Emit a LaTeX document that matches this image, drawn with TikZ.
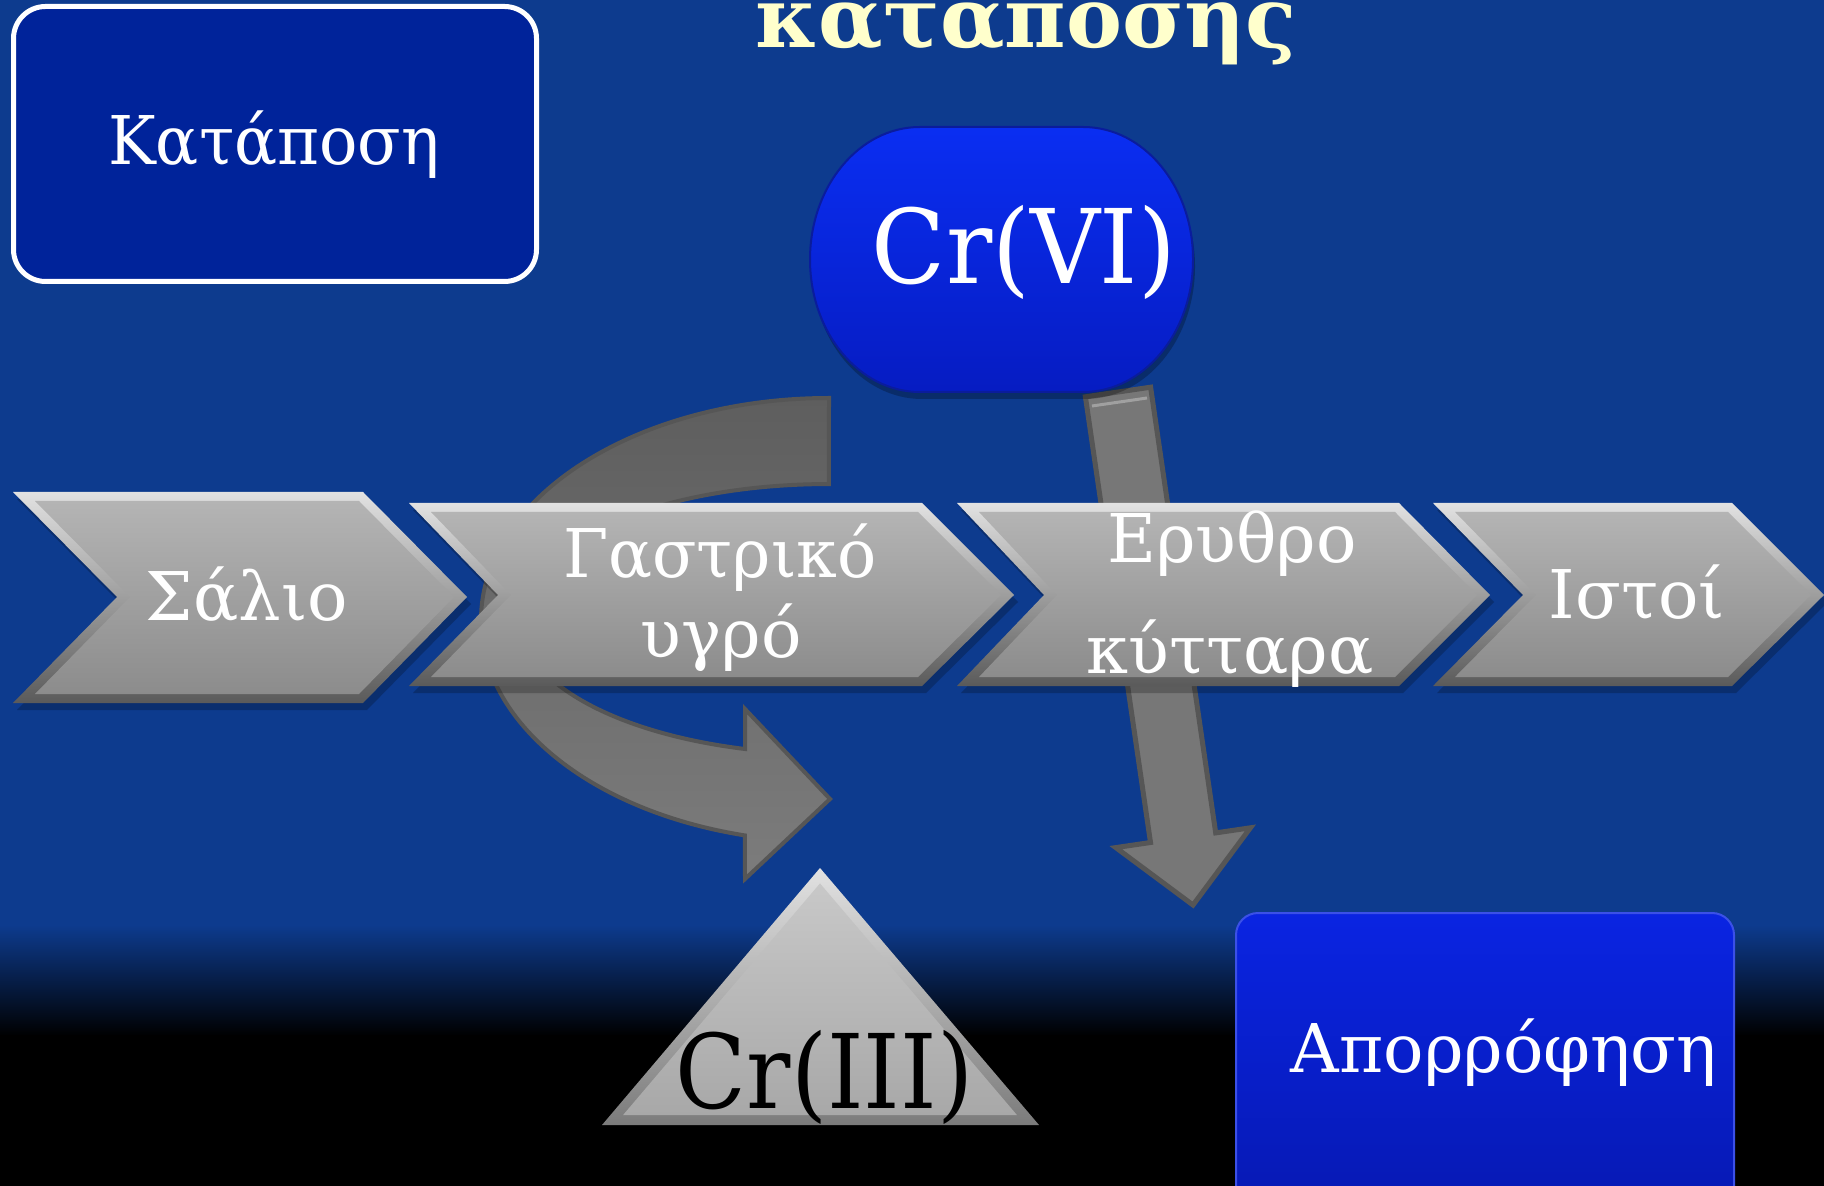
\documentclass[tikz,border=0pt]{standalone}
\usepackage{fontspec}
\setmainfont{DejaVu Serif}
\usepackage{graphicx}

\definecolor{bgblue}{HTML}{0D3B8E}
\definecolor{boxblue}{HTML}{00239A}
\definecolor{pilltop}{HTML}{0A2EF2}
\definecolor{pillbot}{HTML}{061CC2}
\definecolor{pilledge}{HTML}{0A1C9C}
\definecolor{abstop}{HTML}{0A24E2}
\definecolor{absbot}{HTML}{0618AE}
\definecolor{chevtop}{HTML}{B4B4B4}
\definecolor{chevbot}{HTML}{8C8C8C}
\definecolor{bevlight}{HTML}{E2E2E2}
\definecolor{bevdark}{HTML}{5A5A5A}
\definecolor{tritop}{HTML}{C8C8C8}
\definecolor{tribot}{HTML}{A8A8A8}
\definecolor{arrowtop}{HTML}{5E5E5E}
\definecolor{arrowbot}{HTML}{7C7C7C}
\definecolor{arrowfill}{HTML}{777777}
\definecolor{arrowedge}{HTML}{565656}
\definecolor{titleyellow}{HTML}{FFFFCC}

% bevelled chevron: left x, notch x, flat-right x, tip x, top y, middle y, bottom y
\newcommand\chevshape[7]{%
  \fill[black,opacity=.22] ({#1+4},{#5+7}) -- ({#3+4},{#5+7}) -- ({#4+4},{#6+7})
    -- ({#3+4},{#7+7}) -- ({#1+4},{#7+7}) -- ({#2+4},{#6+7}) -- cycle;
  \shade[top color=bevlight,bottom color=bevdark] (#1,#5) -- (#3,#5) -- (#4,#6)
    -- (#3,#7) -- (#1,#7) -- (#2,#6) -- cycle;
  \shade[top color=chevtop,bottom color=chevbot] ({#1+22},{#5+9}) -- ({#3-4},{#5+9})
    -- ({#4-13},#6) -- ({#3-4},{#7-9}) -- ({#1+22},{#7-9}) -- ({#2+13},#6) -- cycle;
}

% Cr(VI) pill outline
\newcommand\pillpath{(920,127) -- (1083,127) .. controls (1143.8,127) and (1193,186.3) .. (1193,259.5)
    .. controls (1193,332.7) and (1143.8,392) .. (1083,392)
    -- (920,392) .. controls (859.2,392) and (810,332.7) .. (810,259.5)
    .. controls (810,186.3) and (859.2,127) .. (920,127) -- cycle}

\tikzset{
  lbl/.style={font=\fontsize{33.6}{40}\selectfont, text=white, inner sep=0pt, anchor=base},
  crlbl/.style={font=\fontsize{51.5}{60}\selectfont, inner sep=0pt, anchor=base},
}

\begin{document}
\begin{tikzpicture}[x=0.5pt,y=-0.5pt]
  \clip (0,0) rectangle (1824,1186);

  % background: blue fading to black near the bottom
  \fill[bgblue] (0,0) rectangle (1824,926);
  \shade[top color=bgblue,bottom color=black] (0,925) rectangle (1824,1036);
  \fill[black] (0,1035) rectangle (1824,1186);

  % title line
  \node[anchor=base, inner sep=0pt, text=titleyellow] (title) at (1026,48)
    {\resizebox{270pt}{!}{\bfseries καταποσης}};

  % framed box, top left
  \draw[white, line width=2.5pt, fill=boxblue, rounded corners=16pt]
    (13.5,6.5) rectangle (536.5,281.5);
  \node[lbl] (katap) at (274,165) {\scalebox{0.95}[1]{Κατάποση}};

  % curved arrow around the gastric step
  \shadedraw[draw=arrowedge, line width=2pt, top color=arrowtop, bottom color=arrowbot, line join=miter]
    (829,398) arc[start angle=270, end angle=104, x radius=348, y radius=222]
    -- (745,879) -- (830,799) -- (745,709) -- (745,749)
    arc[start angle=105.7, end angle=270, x radius=310, y radius=135]
    -- cycle;

  % straight arrow from Cr(VI) down to absorption
  \filldraw[fill=arrowfill, draw=arrowedge, line width=2.5pt, line join=miter]
    (1085.4,396.8) -- (1150.6,387.2) -- (1215.7,832.9) -- (1250.4,827.8)
    -- (1193,905) -- (1115.8,847.6) -- (1150.5,842.5) -- cycle;
  \draw[arrowfill!70!white, line width=1.5pt] (1092,406) -- (1147,398);

  % Cr(VI) pill
  \fill[black,opacity=.25,shift={(2,7)}] \pillpath;
  \shadedraw[draw=pilledge, line width=1pt, top color=pilltop, bottom color=pillbot] \pillpath;
  \node[crlbl, text=white] (cr6) at (1024,284) {\scalebox{0.94}[1]{Cr(VI)}};

  % process chevrons
  \chevshape{13}{117}{363}{467}{492}{597}{703}
  \chevshape{409}{498}{922}{1014}{503}{595}{686}
  \chevshape{957}{1044}{1399}{1490}{503}{595}{686}
  \chevshape{1433}{1523}{1732}{1824}{503}{595}{686}

  \node[lbl] (salio) at (247,620) {Σάλιο};
  \node[lbl] (gastr) at (720,578) {\scalebox{0.97}[1]{Γαστρικό}};
  \node[lbl] (ygro) at (721,657) {υγρό};
  \node[lbl] (erythro) at (1232,563) {Ερυθρο};
  \node[lbl] (kyttara) at (1230,673) {κύτταρα};
  \node[lbl] (istoi) at (1637,618) {Ιστοί};

  % Cr(III) triangle
  \shade[top color=bevlight, bottom color=bevdark!80!white] (820,868) -- (1039,1125) -- (602,1125) -- cycle;
  \shade[top color=tritop, bottom color=tribot] (820,883.4) -- (1016.9,1115) -- (623.1,1115) -- cycle;
  \node[crlbl, text=black] (cr3) at (824.5,1108) {\scalebox{0.9}[1]{Cr(III)}};

  % absorption box
  \shadedraw[draw=abstop!80!white, line width=1pt, top color=abstop, bottom color=absbot, rounded corners=11pt]
    (1236,913) rectangle (1734,1240);
  \node[lbl] (apor) at (1504,1072) {Απορρόφηση};
\end{tikzpicture}
\end{document}
